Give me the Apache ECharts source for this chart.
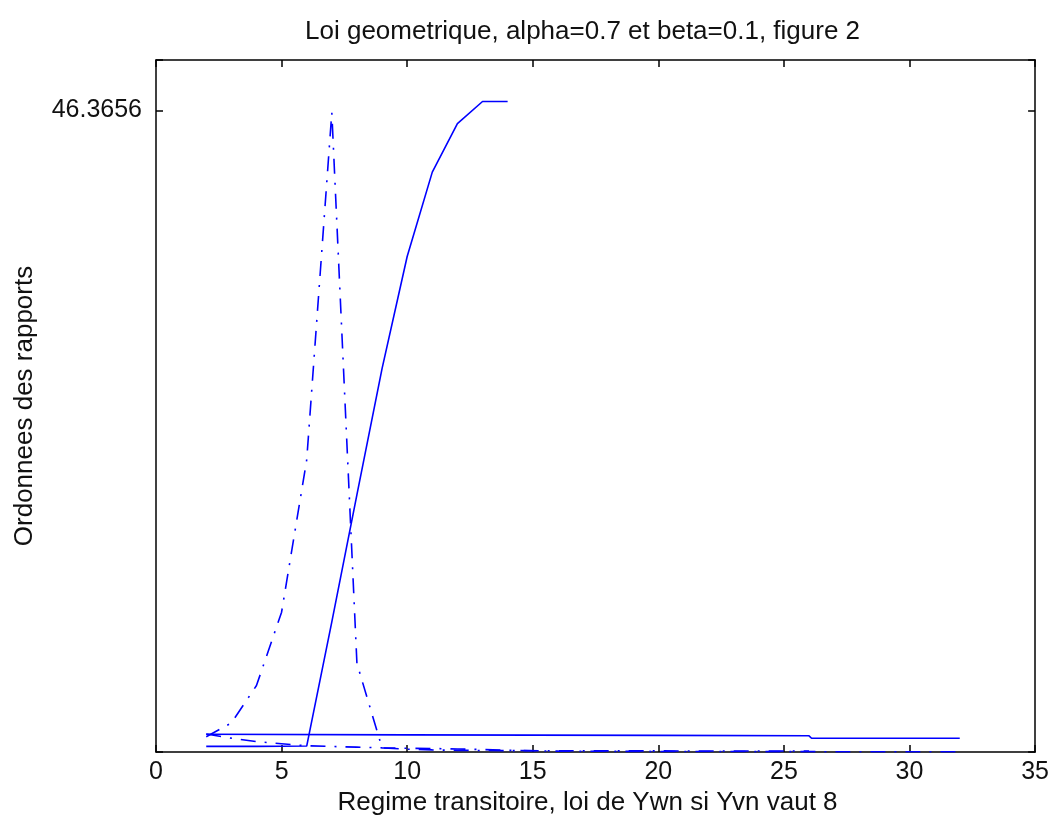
<!DOCTYPE html>
<html>
<head>
<meta charset="utf-8">
<script src="https://cdn.jsdelivr.net/npm/echarts@6/dist/echarts.min.js"></script>
<style>
  html, body { margin: 0; padding: 0; background: #fff; }
  #main { width: 1052px; height: 824px; }
</style>
</head>
<body>
<div id="main"></div>
<script>
// solid, nearly flat line
var flatX = [2, 10, 20, 26, 26.1, 32];
var flatY = [1.28, 1.24, 1.2, 1.17, 0.99, 0.99];

// solid, rising curve
var riseX = [2, 3, 4, 5, 6, 7, 8, 9, 10, 11, 12, 13, 14];
var riseY = [0.41, 0.41, 0.41, 0.42, 0.43, 9.4, 18.6, 27.7, 35.8, 41.9, 45.4, 47.0, 47.0];

// dash-dot, peak around 7
var peakX = [2, 3, 4, 5, 6, 7, 8, 9, 10, 11, 12, 14, 16, 18, 20, 22, 24, 26];
var peakY = [1.1, 2.1, 4.8, 10.1, 21.1, 46.2, 6.4, 0.3, 0.2, 0.15, 0.12, 0.1, 0.09, 0.08, 0.08, 0.07, 0.07, 0.07];

// dash-dot, decaying near zero
var lowX = [2, 3, 4, 5, 6, 7, 8, 9, 10, 11, 12, 13, 14, 16, 20, 24, 28, 32];
var lowY = [1.3, 1.0, 0.75, 0.6, 0.45, 0.4, 0.35, 0.3, 0.27, 0.25, 0.22, 0.18, 0.12, 0.06, 0.04, 0.03, 0.02, 0.02];

var yTick = 46.3656;

function pairs(xs, ys) {
    var out = [];
    for (var i = 0; i < xs.length; i++) {
        out.push([xs[i], ys[i]]);
    }
    return out;
}

var blue = '#0000ff';
var font = 'Liberation Sans, Arial, sans-serif';
var lineCfg = { onZero: false, lineStyle: { color: '#000', width: 1.5 } };
var tickCfg = { inside: true, length: 7, lineStyle: { color: '#000', width: 1.5 } };

var myChart = echarts.init(document.getElementById('main'));
var option = {
    animation: false,
    backgroundColor: '#fff',
    title: {
        text: 'Loi geometrique, alpha=0.7 et beta=0.1, figure 2',
        left: 300,
        top: 14,
        textStyle: { fontFamily: font, fontSize: 26, fontWeight: 'normal', color: '#111' }
    },
    grid: { left: 156, right: 16, top: 60, bottom: 72 },
    xAxis: [{
        type: 'value',
        min: 0,
        max: 35,
        interval: 5,
        position: 'bottom',
        name: 'Regime transitoire, loi de Ywn si Yvn vaut 8',
        nameLocation: 'middle',
        nameGap: 38,
        nameTextStyle: { fontFamily: font, fontSize: 26, color: '#111', padding: [0, 16, 0, 0] },
        axisLine: lineCfg,
        axisTick: tickCfg,
        axisLabel: { fontFamily: font, fontSize: 25, color: '#111', margin: 8 },
        splitLine: { show: false }
    }, {
        type: 'value',
        min: 0,
        max: 35,
        interval: 5,
        position: 'top',
        axisLine: lineCfg,
        axisTick: tickCfg,
        axisLabel: { show: false },
        splitLine: { show: false }
    }],
    yAxis: [{
        type: 'value',
        min: 0,
        max: 50,
        interval: yTick,
        position: 'left',
        name: 'Ordonnees des rapports',
        nameLocation: 'middle',
        nameGap: 118,
        nameTextStyle: { fontFamily: font, fontSize: 26, color: '#111' },
        axisLine: { show: true, onZero: false, lineStyle: { color: '#000', width: 1.5 } },
        axisTick: tickCfg,
        axisLabel: {
            fontFamily: font, fontSize: 25, color: '#111', margin: 14,
            formatter: function (v) {
                return Math.abs(v - yTick) < 1e-6 ? String(yTick) : '';
            }
        },
        splitLine: { show: false }
    }, {
        type: 'value',
        min: 0,
        max: 50,
        interval: yTick,
        position: 'right',
        axisLine: { show: true, onZero: false, lineStyle: { color: '#000', width: 1.5 } },
        axisTick: tickCfg,
        axisLabel: { show: false },
        splitLine: { show: false }
    }],
    series: [{
        type: 'line',
        data: pairs(flatX, flatY),
        showSymbol: false,
        lineStyle: { color: blue, width: 1.6, type: 'solid' }
    }, {
        type: 'line',
        data: pairs(riseX, riseY),
        showSymbol: false,
        lineStyle: { color: blue, width: 1.6, type: 'solid' }
    }, {
        type: 'line',
        data: pairs(peakX, peakY),
        showSymbol: false,
        lineStyle: { color: blue, width: 1.6, type: [15, 9, 2, 9] }
    }, {
        type: 'line',
        data: pairs(lowX, lowY),
        showSymbol: false,
        lineStyle: { color: blue, width: 1.6, type: [15, 9, 2, 9] }
    }]
};
myChart.setOption(option);
</script>
</body>
</html>
